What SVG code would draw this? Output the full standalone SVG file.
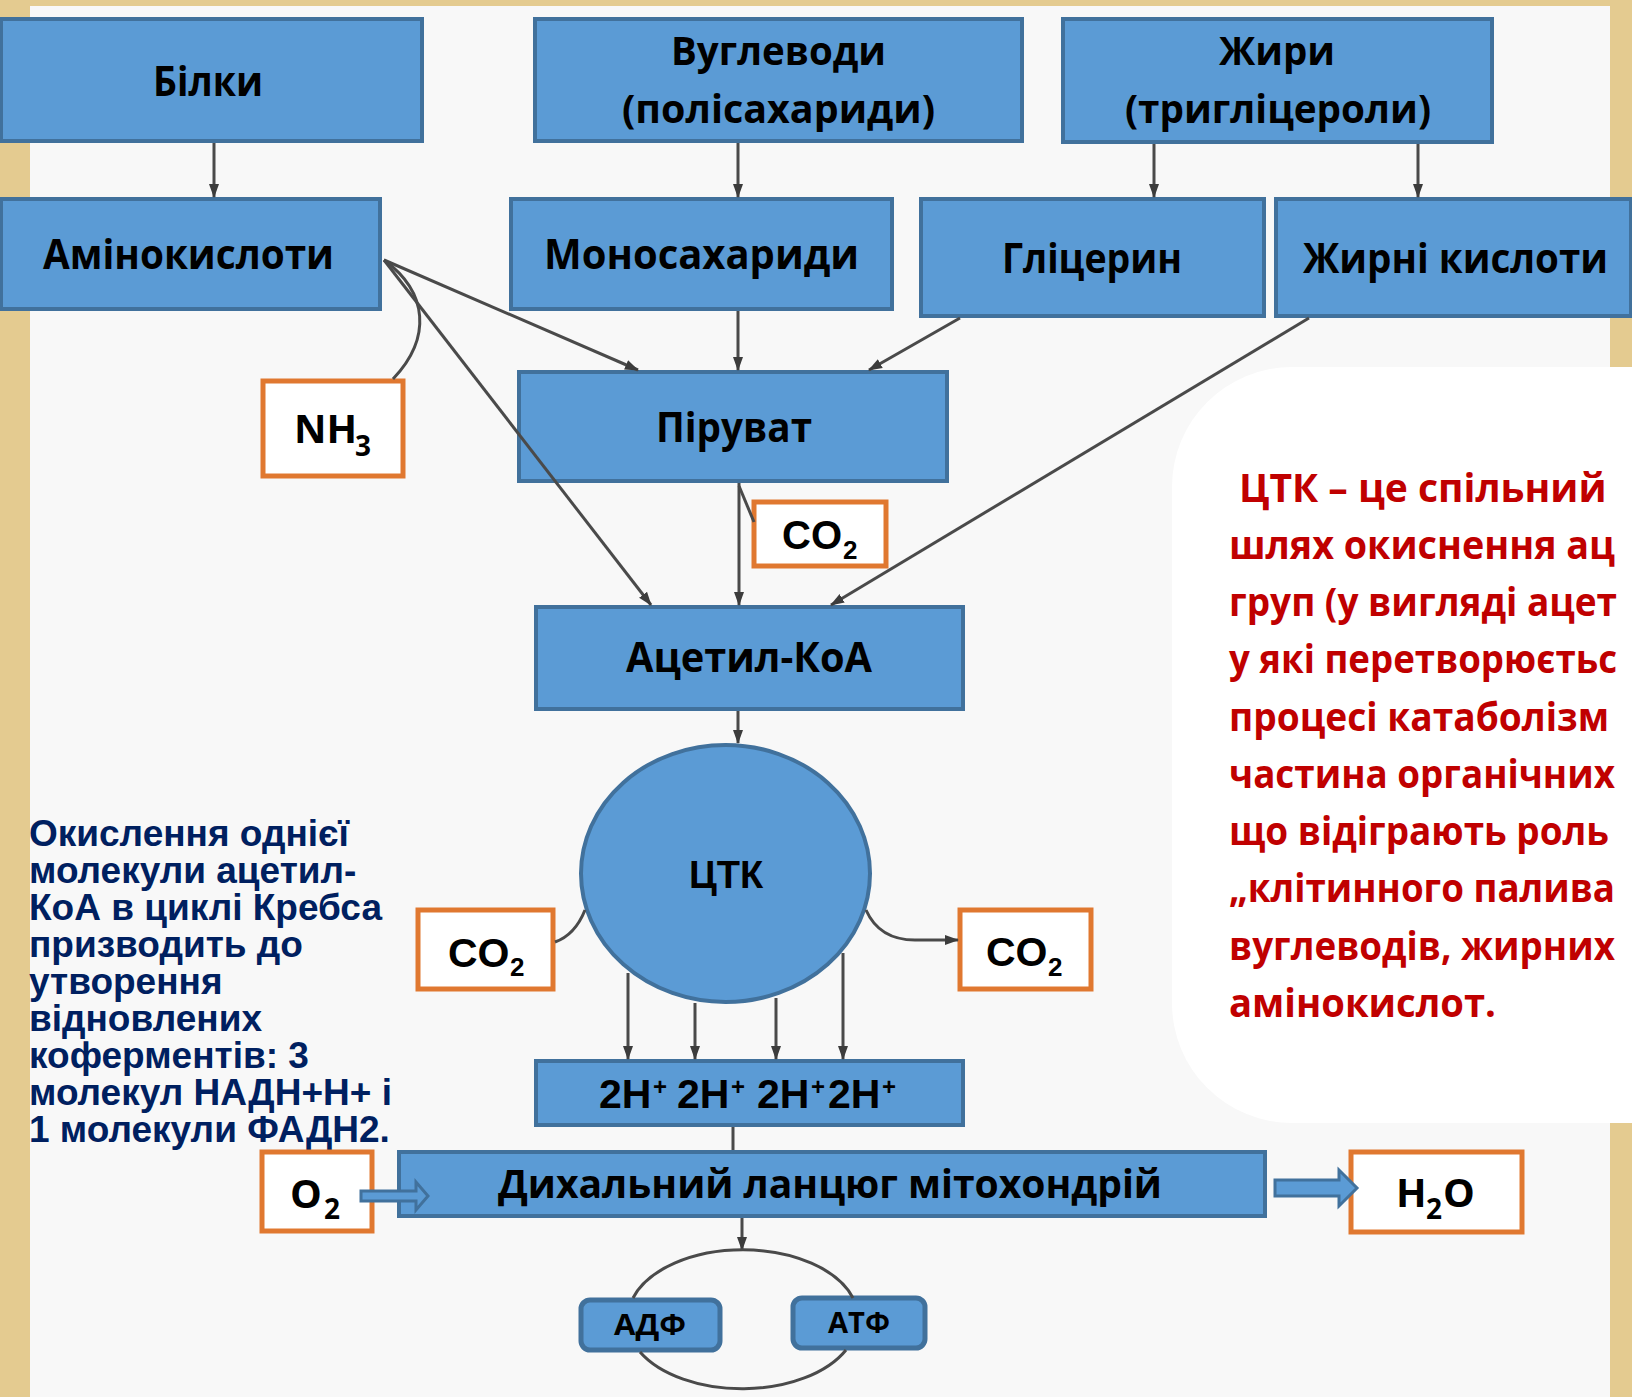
<svg xmlns="http://www.w3.org/2000/svg" width="1632" height="1397" viewBox="0 0 1632 1397">
<defs>
<style>
.bx{fill:#5B9BD5;stroke:#41719C;stroke-width:4}
.ob{fill:#FFFFFF;stroke:#E07830;stroke-width:5}
.rb{fill:#5B9BD5;stroke:#41719C;stroke-width:5}
.t{font-family:"Open Sans","Noto Sans","DejaVu Sans",sans-serif;font-weight:700;fill:#000}
.a{font-family:"Liberation Sans",Arial,sans-serif;font-weight:700;fill:#000}
.red{font-family:"Open Sans","Noto Sans","DejaVu Sans",sans-serif;font-weight:700;fill:#C00000;font-size:39px}
.navy{font-family:"Liberation Sans",Arial,sans-serif;font-weight:700;fill:#002060;font-size:37px}
.ln{fill:none;stroke:#4A4A4A;stroke-width:3}
.blk{fill:#5B9BD5;stroke:#41719C;stroke-width:3}
</style>
<marker id="ah" markerWidth="14" markerHeight="12" refX="13" refY="6" orient="auto" markerUnits="userSpaceOnUse"><path d="M0,1 L14,6 L0,11 Z" fill="#3C3C3C"/></marker>
</defs>

<!-- background -->
<rect x="0" y="0" width="1632" height="1397" fill="#E4CB90"/>
<rect x="30" y="6" width="1580" height="1391" fill="#F8F8F8"/>
<path d="M1292,367 H1632 V1123 H1292 A120,120 0 0 1 1172,1003 V487 A120,120 0 0 1 1292,367 Z" fill="#FFFFFF"/>

<!-- callout text -->
<g id="callout-text">
<text class="red" x="1239" y="502">ЦТК – це спільний</text>
<text class="red" x="1229" y="559" textLength="386" lengthAdjust="spacingAndGlyphs">шлях окиснення ац</text>
<text class="red" x="1229" y="616" textLength="388" lengthAdjust="spacingAndGlyphs">груп (у вигляді ацет</text>
<text class="red" x="1229" y="673" textLength="388" lengthAdjust="spacingAndGlyphs">у які перетворюєтьс</text>
<text class="red" x="1229" y="731" textLength="380" lengthAdjust="spacingAndGlyphs">процесі катаболізм</text>
<text class="red" x="1229" y="788" textLength="386" lengthAdjust="spacingAndGlyphs">частина органічних</text>
<text class="red" x="1229" y="845" textLength="380" lengthAdjust="spacingAndGlyphs">що відіграють роль</text>
<text class="red" x="1229" y="902" textLength="386" lengthAdjust="spacingAndGlyphs">„клітинного палива</text>
<text class="red" x="1229" y="960" textLength="386" lengthAdjust="spacingAndGlyphs">вуглеводів, жирних</text>
<text class="red" x="1229" y="1017" textLength="267" lengthAdjust="spacingAndGlyphs">амінокислот.</text>
</g>

<g id="side-note">
<text class="navy" x="29" y="846">Окислення однієї</text>
<text class="navy" x="29" y="883">молекули ацетил-</text>
<text class="navy" x="29" y="920">КоА в циклі Кребса</text>
<text class="navy" x="29" y="957">призводить до</text>
<text class="navy" x="29" y="994">утворення</text>
<text class="navy" x="29" y="1031">відновлених</text>
<text class="navy" x="29" y="1068">коферментів: 3</text>
<text class="navy" x="29" y="1105">молекул НАДН+Н+ і</text>
<text class="navy" x="29" y="1142">1 молекули ФАДН2.</text>
</g>

<!-- nodes -->
<g id="node-bilky">
<rect class="bx" x="1" y="19" width="421" height="122"/>
<text class="t" x="153" y="96" font-size="41" textLength="110" lengthAdjust="spacingAndGlyphs">Білки</text>
</g>
<g id="node-vuglevody">
<rect class="bx" x="535" y="19" width="487" height="122"/>
<text class="t" x="671" y="65" font-size="39" textLength="215" lengthAdjust="spacingAndGlyphs">Вуглеводи</text>
<text class="t" x="622" y="123" font-size="39" textLength="313" lengthAdjust="spacingAndGlyphs">(полісахариди)</text>
</g>
<g id="node-zhyry">
<rect class="bx" x="1063" y="19" width="429" height="123"/>
<text class="t" x="1219" y="65" font-size="39" textLength="116" lengthAdjust="spacingAndGlyphs">Жири</text>
<text class="t" x="1125" y="123" font-size="39" textLength="306" lengthAdjust="spacingAndGlyphs">(тригліцероли)</text>
</g>
<g id="node-aminokysloty">
<rect class="bx" x="1" y="199" width="379" height="110"/>
<text class="t" x="43" y="269" font-size="41" textLength="291" lengthAdjust="spacingAndGlyphs">Амінокислоти</text>
</g>
<g id="node-monosacharydy">
<rect class="bx" x="511" y="199" width="381" height="110"/>
<text class="t" x="544" y="269" font-size="41" textLength="315" lengthAdjust="spacingAndGlyphs">Моносахариди</text>
</g>
<g id="node-glicerin">
<rect class="bx" x="921" y="199" width="343" height="117"/>
<text class="t" x="1002" y="273" font-size="41" textLength="180" lengthAdjust="spacingAndGlyphs">Гліцерин</text>
</g>
<g id="node-zhyrni-kysloty">
<rect class="bx" x="1276" y="199" width="355" height="117"/>
<text class="t" x="1303" y="273" font-size="41" textLength="305" lengthAdjust="spacingAndGlyphs">Жирні кислоти</text>
</g>
<g id="node-nh3">
<rect class="ob" x="263" y="381" width="140" height="95"/>
<text class="t" x="294" y="443" font-size="40">NH</text>
<text class="t" x="355" y="456" font-size="28">3</text>
</g>
<g id="node-piruvat">
<rect class="bx" x="519" y="372" width="428" height="109"/>
<text class="t" x="656" y="442" font-size="41" textLength="156" lengthAdjust="spacingAndGlyphs">Піруват</text>
</g>
<g id="node-co2-top">
<rect class="ob" x="754" y="502" width="132" height="64"/>
<text class="a" x="782" y="549" font-size="40">CO</text>
<text class="a" x="843" y="559" font-size="26">2</text>
</g>
<g id="node-acetyl-coa">
<rect class="bx" x="536" y="607" width="427" height="102"/>
<text class="t" x="626" y="672" font-size="41" textLength="246" lengthAdjust="spacingAndGlyphs">Ацетил-КоА</text>
</g>
<g id="node-ctk">
<ellipse cx="725.5" cy="873.5" rx="144.5" ry="128.5" fill="#5B9BD5" stroke="#41719C" stroke-width="4"/>
<text class="a" x="726" y="888" font-size="38" text-anchor="middle">ЦТК</text>
</g>
<g id="node-co2-left">
<rect class="ob" x="418" y="910" width="135" height="79"/>
<text class="a" x="448" y="967" font-size="41">CO</text>
<text class="a" x="510" y="976" font-size="26">2</text>
</g>
<g id="node-co2-right">
<rect class="ob" x="960" y="910" width="131" height="79"/>
<text class="a" x="986" y="966" font-size="41">CO</text>
<text class="a" x="1048" y="976" font-size="26">2</text>
</g>
<g id="node-2h">
<rect class="bx" x="536" y="1061" width="427" height="64"/>
<text class="a" x="599" y="1108" font-size="41">2H</text>
<text class="a" x="653" y="1095" font-size="24">+</text>
<text class="a" x="677" y="1108" font-size="41">2H</text>
<text class="a" x="731" y="1095" font-size="24">+</text>
<text class="a" x="757" y="1108" font-size="41">2H</text>
<text class="a" x="811" y="1095" font-size="24">+</text>
<text class="a" x="828" y="1108" font-size="41">2H</text>
<text class="a" x="882" y="1095" font-size="24">+</text>
</g>
<g id="node-resp-chain">
<rect class="bx" x="399" y="1152" width="866" height="64"/>
<text class="t" x="498" y="1198" font-size="40" textLength="664" lengthAdjust="spacingAndGlyphs">Дихальний ланцюг мітохондрій</text>
</g>
<g id="node-o2">
<rect class="ob" x="262" y="1152" width="110" height="79"/>
<text class="t" x="290" y="1208" font-size="40">O</text>
<text class="t" x="324" y="1219" font-size="28">2</text>
</g>
<g id="node-h2o">
<rect class="ob" x="1351" y="1152" width="171" height="80"/>
<text class="t" x="1396" y="1207" font-size="40">H</text>
<text class="t" x="1426" y="1219" font-size="28">2</text>
<text class="t" x="1443" y="1207" font-size="40">O</text>
</g>
<g id="node-adf">
<rect class="rb" x="581" y="1300" width="139" height="50" rx="9"/>
<text class="t" x="614" y="1335" font-size="28" textLength="72" lengthAdjust="spacingAndGlyphs">АДФ</text>
</g>
<g id="node-atf">
<rect class="rb" x="793" y="1298" width="132" height="50" rx="9"/>
<text class="t" x="828" y="1333" font-size="28" textLength="62" lengthAdjust="spacingAndGlyphs">АТФ</text>
</g>

<!-- connectors -->
<g id="connectors">
<path class="ln" d="M214,143 L214,197" marker-end="url(#ah)"/>
<path class="ln" d="M738,143 L738,197" marker-end="url(#ah)"/>
<path class="ln" d="M1154,144 L1154,197" marker-end="url(#ah)"/>
<path class="ln" d="M1418,144 L1418,197" marker-end="url(#ah)"/>
<path class="ln" d="M738,311 L738,370" marker-end="url(#ah)"/>
<path class="ln" d="M739,483 L739,605" marker-end="url(#ah)"/>
<path class="ln" d="M739,486 L754,522"/>
<path class="ln" d="M384,260 L638,370" marker-end="url(#ah)"/>
<path class="ln" d="M384,260 L651,605" marker-end="url(#ah)"/>
<path class="ln" d="M384,260 C428,292 432,338 393,379"/>
<path class="ln" d="M960,318 L869,370" marker-end="url(#ah)"/>
<path class="ln" d="M1309,318 L831,605" marker-end="url(#ah)"/>
<path class="ln" d="M738,711 L738,743" marker-end="url(#ah)"/>
<path class="ln" d="M585,910 Q575,935 555,942"/>
<path class="ln" d="M866,910 C874,928 890,940 915,940 L958,940" marker-end="url(#ah)"/>
<path class="ln" d="M628,973 L628,1059" marker-end="url(#ah)"/>
<path class="ln" d="M695,1003 L695,1059" marker-end="url(#ah)"/>
<path class="ln" d="M776,998 L776,1059" marker-end="url(#ah)"/>
<path class="ln" d="M843,953 L843,1059" marker-end="url(#ah)"/>
<path class="ln" d="M733,1127 L733,1150"/>
<path class="ln" d="M742,1218 L742,1250" marker-end="url(#ah)"/>
<path class="ln" d="M633,1298 A115,68 0 0 1 853,1298" stroke-width="3"/>
<path class="ln" d="M640,1352 A115,68 0 0 0 846,1350" stroke-width="3"/>
<polygon class="blk" points="361,1191 416,1191 416,1182 428,1196 416,1210 416,1201 361,1201"/>
<polygon class="blk" points="1275,1180 1339,1180 1339,1170 1357,1188 1339,1206 1339,1196 1275,1196"/>
</g>
</svg>
